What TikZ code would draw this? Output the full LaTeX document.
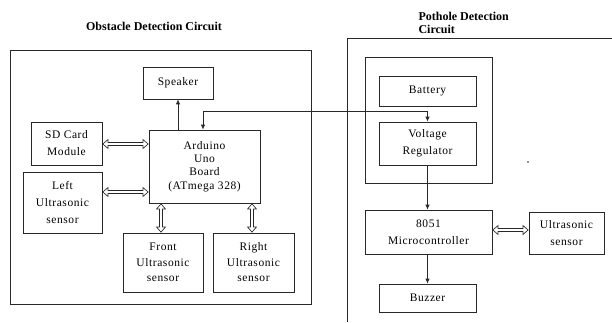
\documentclass[tikz,border=0pt]{standalone}
\usepackage{fontspec}
\setmainfont{Liberation Serif}
\newfontfamily\boxfont[LetterSpace=5]{Liberation Serif}
\usetikzlibrary{arrows.meta, positioning}
\definecolor{blkline}{RGB}{40, 40, 40}

\begin{document}
\begin{tikzpicture}[
    x=1pt, y=-1pt,
    block/.style={draw=blkline, line width=0.7pt, align=center, inner sep=1pt,
                  font=\boxfont\fontsize{11.5}{17}\selectfont},
    title/.style={font=\fontsize{12}{13}\selectfont\bfseries, align=left},
    arrow/.style={draw=blkline, line width=0.8pt, -{Latex[length=5pt, width=4.5pt]}},
    dual/.style={draw=blkline, line width=3.8pt,
                 {Triangle[length=6pt, width=10pt]}-{Triangle[length=6pt, width=10pt]},
                 postaction={draw=white, line width=2.2pt, shorten <=1.25pt, shorten >=1.25pt,
                 {Triangle[length=4pt, width=6.6pt]}-{Triangle[length=4pt, width=6.6pt]}}}
]
\useasboundingbox (0,0) rectangle (612,322);

% === Obstacle detection ===
\node[title] (otitle) at (154,26) {Obstacle Detection Circuit};
\draw[blkline, line width=0.7pt] (10,50) rectangle (311,304);

\node[block, minimum width=70pt, minimum height=32pt] (spk) at (178,83) {Speaker};
\node[block, minimum width=111pt, minimum height=73pt,
      font=\boxfont\fontsize{11.5}{13.3}\selectfont] (ard) at (204.5,166.5)
    {Arduino\\Uno\\Board\\(ATmega 328)};
\node[block, minimum width=71pt, minimum height=43pt] (sd) at (66.5,143.5) {SD Card\\Module};
\node[block, minimum width=79pt, minimum height=61pt] (left) at (62.5,202.5)
    {Left\\Ultrasonic\\sensor};
\node[block, minimum width=80pt, minimum height=59pt,
      font=\boxfont\fontsize{11.5}{15.5}\selectfont] (front) at (163,262.5)
    {Front\\Ultrasonic\\sensor};
\node[block, minimum width=81pt, minimum height=59pt,
      font=\boxfont\fontsize{11.5}{15.5}\selectfont] (right) at (253.5,262.5)
    {Right\\Ultrasonic\\sensor};

\draw[arrow] (spk.south |- ard.north) -- (spk.south);
\draw[dual] ([yshift=-0.5pt]sd.east) -- ([yshift=-0.5pt]sd.east -| ard.west);
\draw[dual] ([yshift=10.5pt]left.east) -- ([yshift=10.5pt]left.east -| ard.west);
\draw[dual] ([xshift=-2pt]front.north) -- ([xshift=-2pt]front.north |- ard.south);
\draw[dual] ([xshift=-1.5pt]right.north) -- ([xshift=-1.5pt]right.north |- ard.south);

% === Pothole detection ===
\node[title, anchor=north west] (ptitle) at (415,9) {Pothole Detection\\Circuit};
\draw[blkline, line width=0.7pt] (347,322) -- (347,38) -- (612,38);
\draw[blkline, line width=0.7pt] (365,57) rectangle (492,183);

\node[block, minimum width=97pt, minimum height=30pt] (bat) at (427.5,91) {Battery};
\node[block, minimum width=97pt, minimum height=43pt] (reg) at (427.5,143.5)
    {Voltage\\Regulator};
\node[block, minimum width=127pt, minimum height=44pt] (mcu) at (428.5,232)
    {8051\\Microcontroller};
\node[block, minimum width=75pt, minimum height=42pt] (us) at (566.5,233)
    {Ultrasonic\\sensor};
\node[block, minimum width=97pt, minimum height=28pt] (buz) at (427.5,298) {Buzzer};
\fill[blkline] (528,162) circle (0.8pt);

\coordinate (wire) at (427.5,111);
\draw[arrow, {Latex[length=5pt, width=4.5pt]}-{Latex[length=5pt, width=4.5pt]}]
    ([xshift=-1.5pt]ard.north) |- (wire) -- (reg.north);
\draw[arrow] (reg.south) -- (reg.south |- mcu.north);
\draw[arrow] (buz.north |- mcu.south) -- (buz.north);
\draw[dual] ([yshift=2pt]mcu.east) -- ([yshift=2pt]mcu.east -| us.west);

\end{tikzpicture}
\end{document}
